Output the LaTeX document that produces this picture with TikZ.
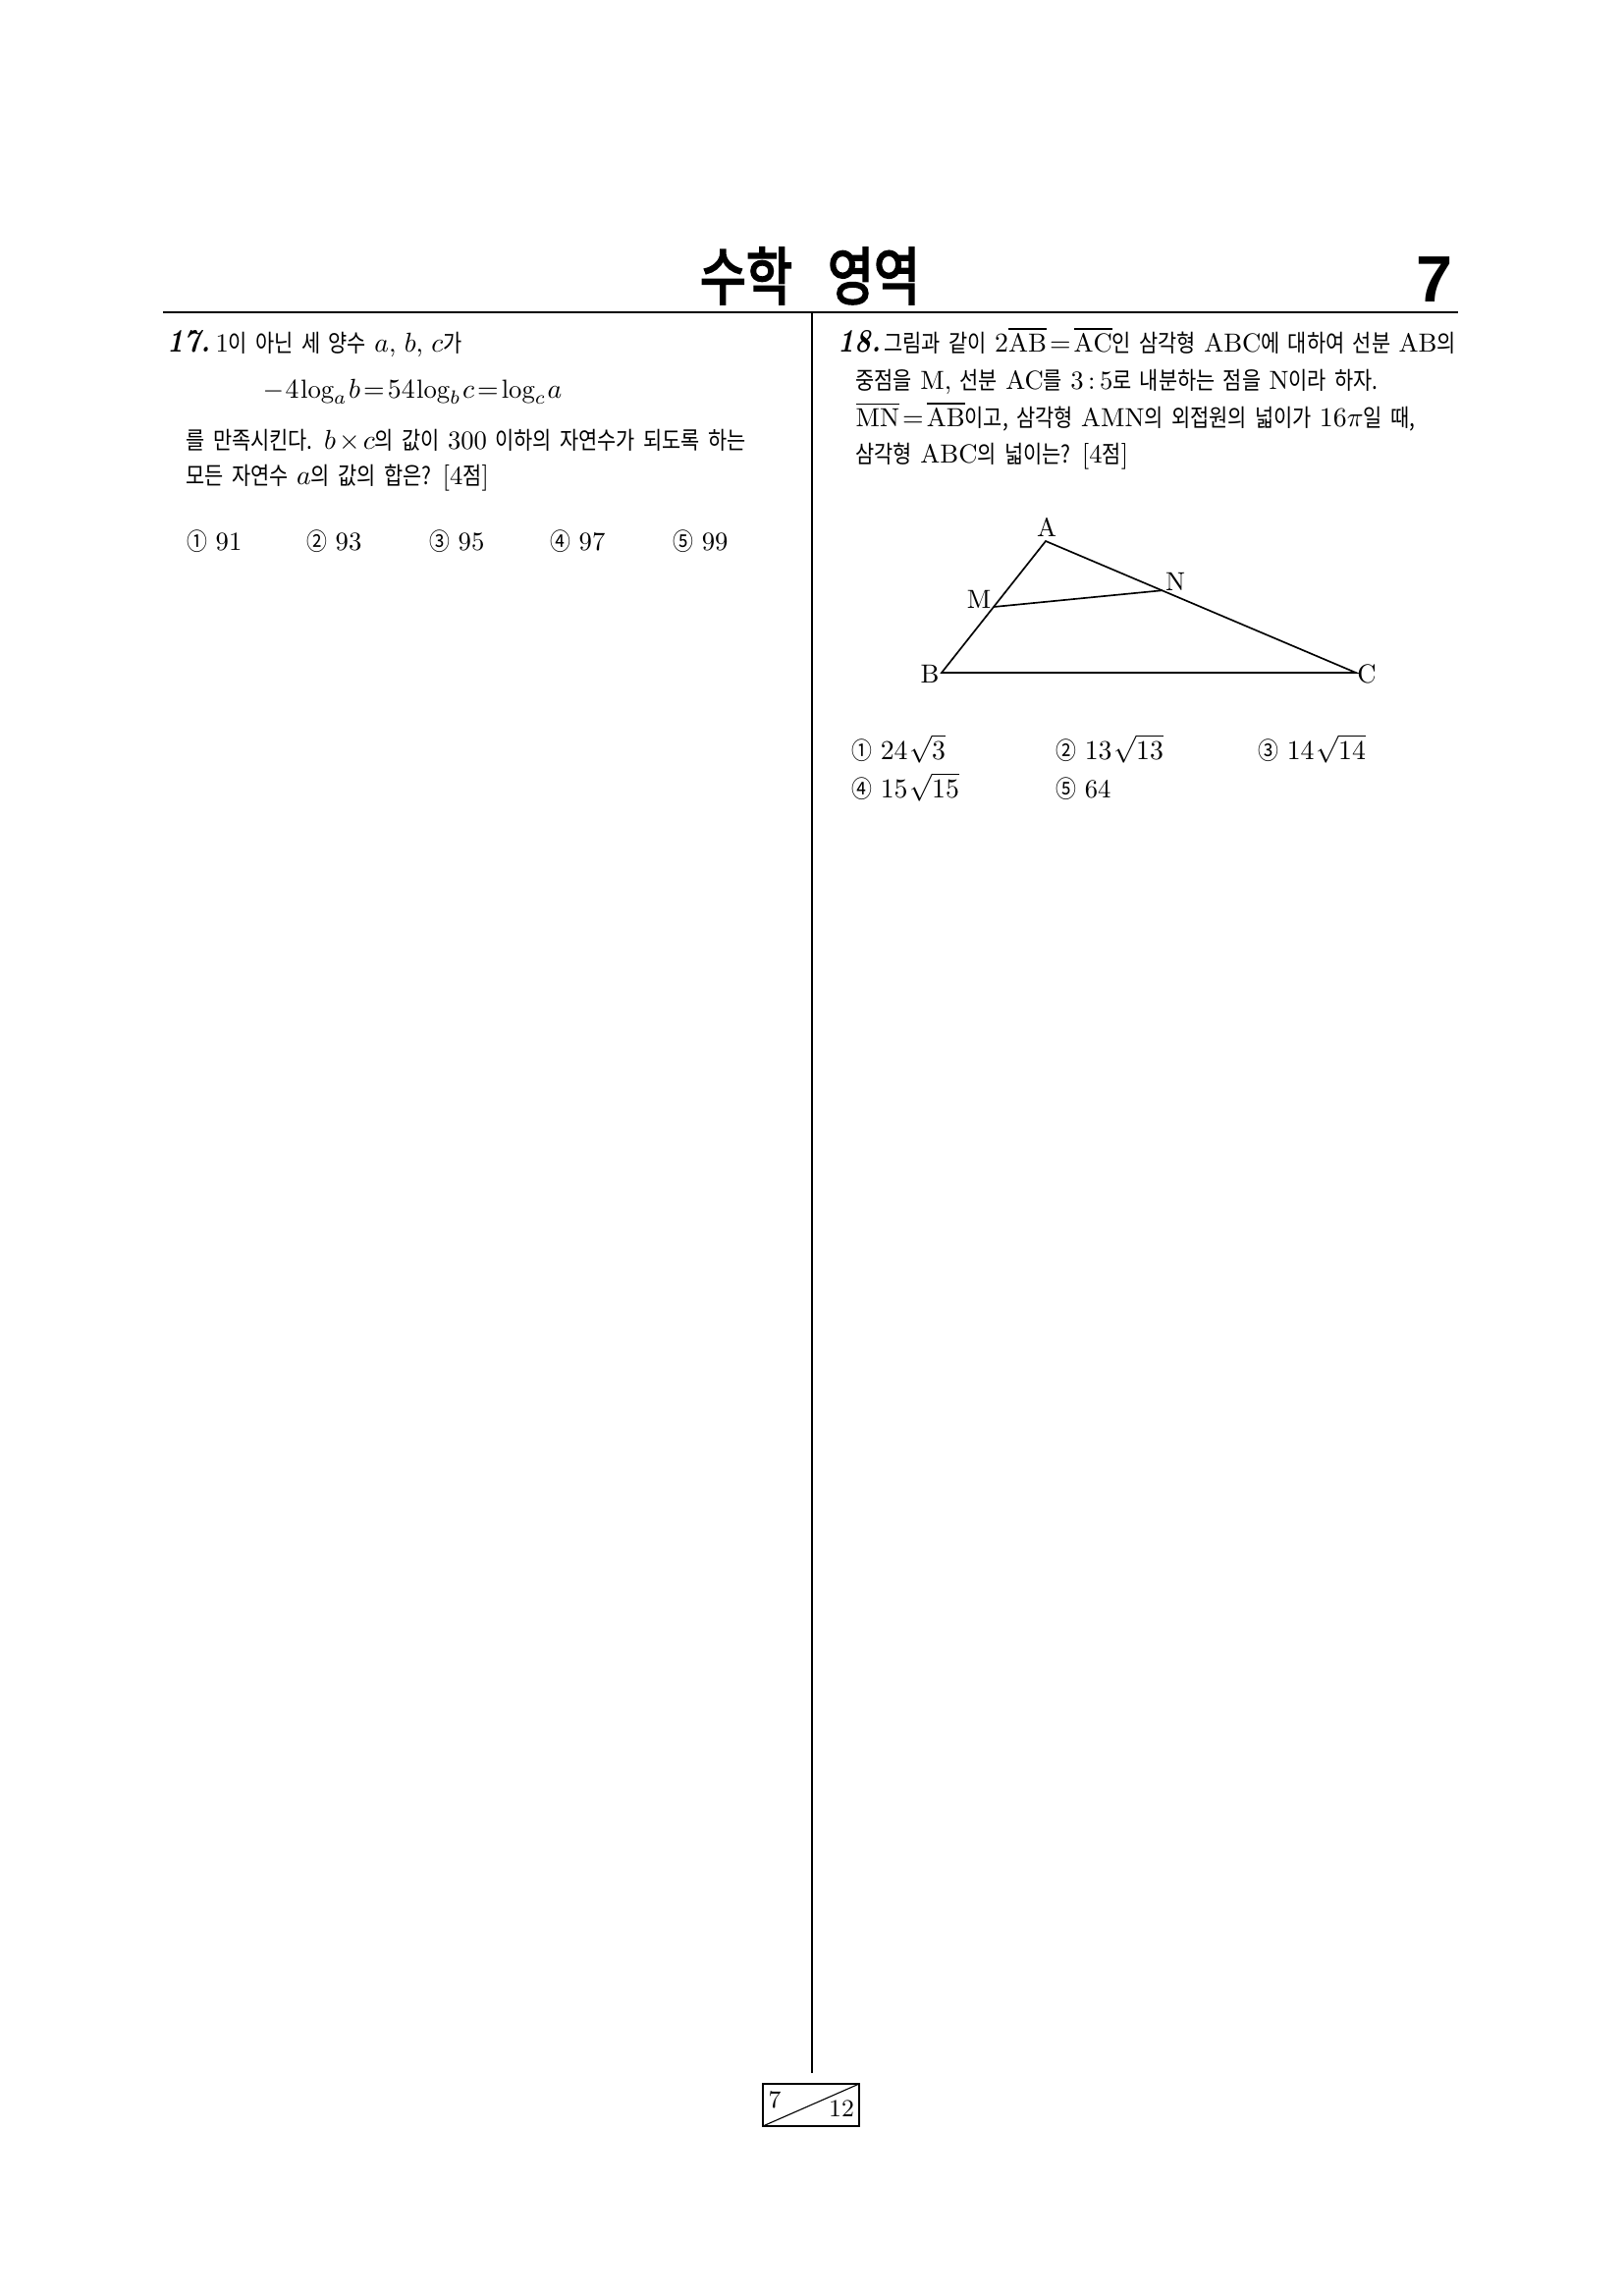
\documentclass[tikz,border=0pt]{standalone}
\usepackage{fontspec}
\usetikzlibrary{calc}
\newfontfamily\kr[Scale=0.92,FakeStretch=0.85]{Noto Sans CJK KR}
\newfontfamily\krtitle[FakeStretch=0.8,FakeBold=3]{Noto Sans CJK KR}
\newfontfamily\numfont{Liberation Sans}
\newcommand\hg[1]{{\kr #1}}
\newcommand\tightmath{\thickmuskip=2mu\medmuskip=2mu\thinmuskip=1mu\spaceskip=3pt plus 1pt minus 1pt}
\tikzset{
    txt/.style={anchor=base west, inner sep=0pt, font=\fontsize{9.6}{12}\selectfont\tightmath},
    lbl/.style={inner sep=0pt, font=\fontsize{9.6}{12}\selectfont},
    qnum/.style={anchor=base west, inner sep=0pt, font=\fontsize{12}{12}\selectfont\bfseries\itshape}
}
\begin{document}
\begin{tikzpicture}[x=0.36pt,y=-0.36pt]
            \useasboundingbox (0,0) rectangle (1653,2337);

            % header
            \node[anchor=base, inner sep=0pt, font=\krtitle\fontsize{23}{23}\selectfont] (title) at (825,305) {수학\hspace{13pt}영역};
            \node[anchor=base east, inner sep=0pt, font=\numfont\bfseries\fontsize{24}{24}\selectfont] (pnum) at (1480,307) {7};
            \draw[line width=0.6pt] (166,318) -- (1485,318);
            \draw[line width=0.4pt] (827,318) -- (827,2111);

            % question 17
            \node[qnum] (q17num) at (170,358) {\scalebox{0.85}[1]{17.}};
            \node[txt] (q17l1) at (219,358) {1\hg{이 아닌 세 양수} $a$, $b$, $c$\hg{가}};
            \node[txt] (q17eq) at (267,405) {$-\,4\log_a b=54\log_b c=\log_c a$};
            \node[txt] (q17l3) at (189,457) {\hg{를 만족시킨다.} $b\times c$\hg{의 값이} 300 \hg{이하의 자연수가 되도록 하는}};
            \node[txt] (q17l4) at (189,493) {\hg{모든 자연수} $a$\hg{의 값의 합은?} [4\hg{점}]};
            \foreach \xx/\mk/\v [count=\i] in {190/①/91, 312/②/93, 437/③/95, 560/④/97, 685/⑤/99} {
                \node[txt] (q17c\i) at (\xx,560) {\hg{\mk} \v};
            }

            % question 18
            \node[qnum] (q18num) at (853,358) {\scalebox{0.85}[1]{18.}};
            \node[txt] (q18l1) at (900,358) {\hg{그림과 같이} $2\overline{\mathrm{AB}}=\overline{\mathrm{AC}}$\hg{인 삼각형} ABC\hg{에 대하여 선분} AB\hg{의}};
            \node[txt] (q18l2) at (871,396) {\hg{중점을} M, \hg{선분} AC\hg{를} 3\,:\,5\hg{로 내분하는 점을} N\hg{이라 하자.}};
            \node[txt] (q18l3) at (871,434) {$\overline{\mathrm{MN}}=\overline{\mathrm{AB}}$\hg{이고, 삼각형} AMN\hg{의 외접원의 넓이가} $16\pi$\hg{일 때,}};
            \node[txt] (q18l4) at (871,471) {\hg{삼각형} ABC\hg{의 넓이는?} [4\hg{점}]};

            % triangle ABC
            \coordinate (A) at (1065,551);
            \coordinate (B) at (959,685);
            \coordinate (C) at (1381,685);
            \coordinate (M) at ($(A)!0.5!(B)$);
            \coordinate (N) at ($(A)!0.375!(C)$);
            \draw[line width=0.6pt] (A) -- (B) -- (C) -- cycle;
            \draw[line width=0.6pt] (M) -- (N);
            \node[lbl] (labA) at (1066,537) {A};
            \node[lbl] (labM) at (997,610) {M};
            \node[lbl] (labN) at (1197,592) {N};
            \node[lbl] (labB) at (947,686) {B};
            \node[lbl] (labC) at (1392,686) {C};

            \foreach \xx/\yy/\mk/\v [count=\i] in {867/773/①/$24\,\sqrt{3}$, 1075/773/②/$13\,\sqrt{13}$, 1281/773/③/$14\,\sqrt{14}$, 867/812/④/$15\,\sqrt{15}$, 1075/812/⑤/64} {
                \node[txt] (q18c\i) at (\xx,\yy) {\hg{\mk} \v};
            }

            % page box
            \draw[line width=0.5pt] (777,2122) rectangle (875,2165);
            \draw[line width=0.4pt] (777,2165) -- (875,2122);
            \node[lbl, font=\fontsize{9}{9}\selectfont] (pgcur) at (789,2138) {7};
            \node[lbl, font=\fontsize{9}{9}\selectfont] (pgall) at (857,2147) {12};
        \end{tikzpicture}
\end{document}
